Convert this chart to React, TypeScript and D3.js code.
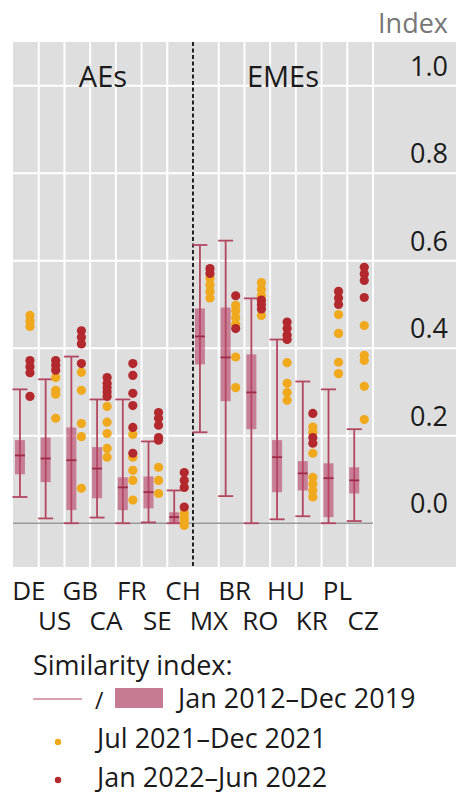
import { useEffect, useRef } from 'react'
import * as d3 from 'd3'

const W = 456
const H = 794
const PLOT = { left: 13, right: 373, top: 42, bottom: 567, bgRight: 456 }
const FONT = '"Open Sans", sans-serif'

const countries = ['DE', 'US', 'GB', 'CA', 'FR', 'SE', 'CH', 'MX', 'BR', 'RO', 'HU', 'KR', 'PL', 'CZ']
const groups = [
  { label: 'AEs', from: 'DE', to: 'CH' },
  { label: 'EMEs', from: 'MX', to: 'CZ' },
]
const yTicks = [0, 0.2, 0.4, 0.6, 0.8, 1.0]

// Jan 2012–Dec 2019 distribution: [whisker low, box low, median, box high, whisker high]
const boxStats: number[][] = [
  [0.06, 0.112, 0.155, 0.19, 0.306],
  [0.011, 0.094, 0.148, 0.196, 0.329],
  [0.0, 0.03, 0.144, 0.219, 0.381],
  [0.013, 0.057, 0.125, 0.174, 0.283],
  [0.0, 0.03, 0.082, 0.105, 0.283],
  [0.002, 0.034, 0.071, 0.107, 0.187],
  [0.0, 0.0, 0.014, 0.025, 0.075],
  [0.208, 0.363, 0.427, 0.491, 0.636],
  [0.062, 0.279, 0.379, 0.493, 0.646],
  [0.0, 0.215, 0.299, 0.386, 0.514],
  [0.009, 0.071, 0.151, 0.19, 0.42],
  [0.016, 0.075, 0.114, 0.142, 0.324],
  [0.0, 0.014, 0.103, 0.137, 0.306],
  [0.005, 0.068, 0.098, 0.128, 0.215],
]

// Jul 2021–Dec 2021
const dots2021: number[][] = [
  [0.475, 0.462, 0.45],
  [0.333, 0.304, 0.295, 0.24],
  [0.345, 0.304, 0.228, 0.198, 0.08],
  [0.267, 0.231, 0.205, 0.171, 0.151],
  [0.203, 0.151, 0.121, 0.098, 0.053],
  [0.128, 0.098, 0.068],
  [0.023, 0.012, 0.003, -0.005],
  [0.56, 0.545, 0.53, 0.515],
  [0.498, 0.485, 0.47, 0.455, 0.38, 0.31],
  [0.55, 0.535, 0.52, 0.475],
  [0.367, 0.32, 0.299, 0.281],
  [0.22, 0.208, 0.16, 0.105, 0.09, 0.075, 0.06],
  [0.477, 0.434, 0.368, 0.342],
  [0.452, 0.384, 0.372, 0.313, 0.237],
]

// Jan 2022–Jun 2022
const dots2022: number[][] = [
  [0.372, 0.358, 0.344, 0.29],
  [0.372, 0.361, 0.35],
  [0.44, 0.425, 0.41, 0.365],
  [0.333, 0.32, 0.31, 0.3, 0.29],
  [0.365, 0.338, 0.297, 0.269, 0.219, 0.16],
  [0.253, 0.24, 0.224, 0.196, 0.19],
  [0.116, 0.098, 0.082, 0.037],
  [0.582, 0.571],
  [0.52, 0.445],
  [0.51, 0.5, 0.49],
  [0.46, 0.445, 0.43, 0.42],
  [0.251, 0.196, 0.183],
  [0.53, 0.515, 0.5],
  [0.585, 0.57, 0.555, 0.516],
]

const legendItems = ['Jan 2012–Dec 2019', 'Jul 2021–Dec 2021', 'Jan 2022–Jun 2022']

const C = {
  bg: '#dedede',
  grid: '#ffffff',
  zero: '#999999',
  whisker: '#b3475f',
  box: 'rgba(185,70,105,0.62)',
  median: '#9e2a45',
  orange: '#f0a81c',
  red: '#b3282d',
  text: '#1a1a1a',
  index: '#777777',
}

export default function App() {
  const svgRef = useRef<SVGSVGElement>(null)

  useEffect(() => {
    if (!svgRef.current) return
    const svg = d3.select(svgRef.current)
    svg.selectAll('*').remove()

    const x = d3.scaleBand<string>().domain(countries).range([PLOT.left, PLOT.right])
    const y = d3.scaleLinear().domain([-0.1, 1.1]).range([PLOT.bottom, PLOT.top])
    const bw = x.bandwidth()
    const boxX = (c: string) => (x(c) as number) + bw * 0.27
    const dotX = (c: string) => (x(c) as number) + bw * 0.66

    // Background
    svg.append('rect')
      .attr('x', PLOT.left).attr('y', PLOT.top)
      .attr('width', PLOT.bgRight - PLOT.left)
      .attr('height', PLOT.bottom - PLOT.top)
      .attr('fill', C.bg)

    // Horizontal grid
    svg.append('g').selectAll('line')
      .data(yTicks.filter((t) => t > 0))
      .join('line')
      .attr('x1', PLOT.left).attr('x2', PLOT.bgRight)
      .attr('y1', (d) => y(d)).attr('y2', (d) => y(d))
      .attr('stroke', C.grid).attr('stroke-width', 2)

    // Vertical separators
    const splitAfter = 'CH'
    svg.append('g').selectAll('line')
      .data(countries.filter((c) => c !== splitAfter))
      .join('line')
      .attr('x1', (c) => (x(c) as number) + bw).attr('x2', (c) => (x(c) as number) + bw)
      .attr('y1', PLOT.top).attr('y2', PLOT.bottom)
      .attr('stroke', C.grid).attr('stroke-width', 2)

    // Zero line
    svg.append('line')
      .attr('x1', PLOT.left).attr('x2', PLOT.right)
      .attr('y1', y(0)).attr('y2', y(0))
      .attr('stroke', C.zero).attr('stroke-width', 1.5)

    // Group divider
    const divX = (x(splitAfter) as number) + bw
    svg.append('line')
      .attr('x1', divX).attr('x2', divX)
      .attr('y1', PLOT.top).attr('y2', PLOT.bottom)
      .attr('stroke', '#222').attr('stroke-width', 2)
      .attr('stroke-dasharray', '4,2.5')

    // Group labels
    svg.append('g').selectAll('text')
      .data(groups)
      .join('text')
      .attr('x', (g) => ((x(g.from) as number) + (x(g.to) as number) + bw) / 2)
      .attr('y', 87)
      .attr('text-anchor', 'middle')
      .attr('font-family', FONT).attr('font-size', 29)
      .attr('fill', C.text)
      .text((g) => g.label)

    // Y tick labels
    svg.append('g').selectAll('text')
      .data(yTicks)
      .join('text')
      .attr('x', 448)
      .attr('y', (d) => y(d) - 10)
      .attr('text-anchor', 'end')
      .attr('font-family', FONT).attr('font-size', 27)
      .attr('fill', C.text)
      .text((d) => d3.format('.1f')(d))

    svg.append('text')
      .attr('x', 448).attr('y', 33)
      .attr('text-anchor', 'end')
      .attr('font-family', FONT).attr('font-size', 27)
      .attr('fill', C.index)
      .text('Index')

    // Boxes
    const capW = 15
    const boxW = 10
    const bg = svg.append('g').selectAll('g')
      .data(countries.map((c, i) => ({ c, s: boxStats[i] })))
      .join('g')

    bg.append('line')
      .attr('x1', (d) => boxX(d.c)).attr('x2', (d) => boxX(d.c))
      .attr('y1', (d) => y(d.s[0])).attr('y2', (d) => y(d.s[4]))
      .attr('stroke', C.whisker).attr('stroke-width', 1.8)
    ;[0, 4].forEach((k) => {
      bg.append('line')
        .attr('x1', (d) => boxX(d.c) - capW / 2).attr('x2', (d) => boxX(d.c) + capW / 2)
        .attr('y1', (d) => y(d.s[k])).attr('y2', (d) => y(d.s[k]))
        .attr('stroke', C.whisker).attr('stroke-width', 1.8)
    })
    bg.append('rect')
      .attr('x', (d) => boxX(d.c) - boxW / 2)
      .attr('width', boxW)
      .attr('y', (d) => y(d.s[3]))
      .attr('height', (d) => Math.max(1, y(d.s[1]) - y(d.s[3])))
      .attr('fill', C.box)
    bg.append('line')
      .attr('x1', (d) => boxX(d.c) - boxW / 2).attr('x2', (d) => boxX(d.c) + boxW / 2)
      .attr('y1', (d) => y(d.s[2])).attr('y2', (d) => y(d.s[2]))
      .attr('stroke', C.median).attr('stroke-width', 1.8)

    // Dots
    const drawDots = (series: number[][], color: string) => {
      svg.append('g').selectAll('circle')
        .data(series.flatMap((vals, i) => vals.map((v) => ({ c: countries[i], v }))))
        .join('circle')
        .attr('cx', (d) => dotX(d.c))
        .attr('cy', (d) => y(d.v))
        .attr('r', 4.6)
        .attr('fill', color)
    }
    drawDots(dots2021, C.orange)
    drawDots(dots2022, C.red)

    // Category labels, staggered in two rows
    svg.append('g').selectAll('text')
      .data(countries)
      .join('text')
      .attr('x', (c) => (x(c) as number) + bw / 2 + 3)
      .attr('y', (_c, i) => (i % 2 === 0 ? 600 : 630))
      .attr('text-anchor', 'middle')
      .attr('font-family', FONT).attr('font-size', 26)
      .attr('fill', C.text)
      .text((c) => c)

    // Legend
    const lg = svg.append('g').attr('font-family', FONT).attr('font-size', 27).attr('fill', C.text)
    lg.append('text').attr('x', 33).attr('y', 675).text('Similarity index:')
    lg.append('line')
      .attr('x1', 33).attr('x2', 82).attr('y1', 699).attr('y2', 699)
      .attr('stroke', C.whisker).attr('stroke-width', 1.2)
    lg.append('text').attr('x', 95).attr('y', 709).attr('font-size', 23).text('/')
    lg.append('rect').attr('x', 115).attr('y', 688).attr('width', 48).attr('height', 20)
      .attr('fill', '#c67b92')
    lg.append('text').attr('x', 178).attr('y', 708).text(legendItems[0])
    ;[
      { color: C.orange, cy: 742, ty: 748, label: legendItems[1] },
      { color: C.red, cy: 780, ty: 787, label: legendItems[2] },
    ].forEach((it) => {
      lg.append('circle').attr('cx', 58).attr('cy', it.cy).attr('r', 3.2).attr('fill', it.color)
      lg.append('text').attr('x', 97).attr('y', it.ty).text(it.label)
    })
  }, [])

  return (
    <svg
      ref={svgRef}
      width={W}
      height={H}
      style={{ position: 'absolute', left: 0, top: 0, background: '#fff' }}
    />
  )
}
